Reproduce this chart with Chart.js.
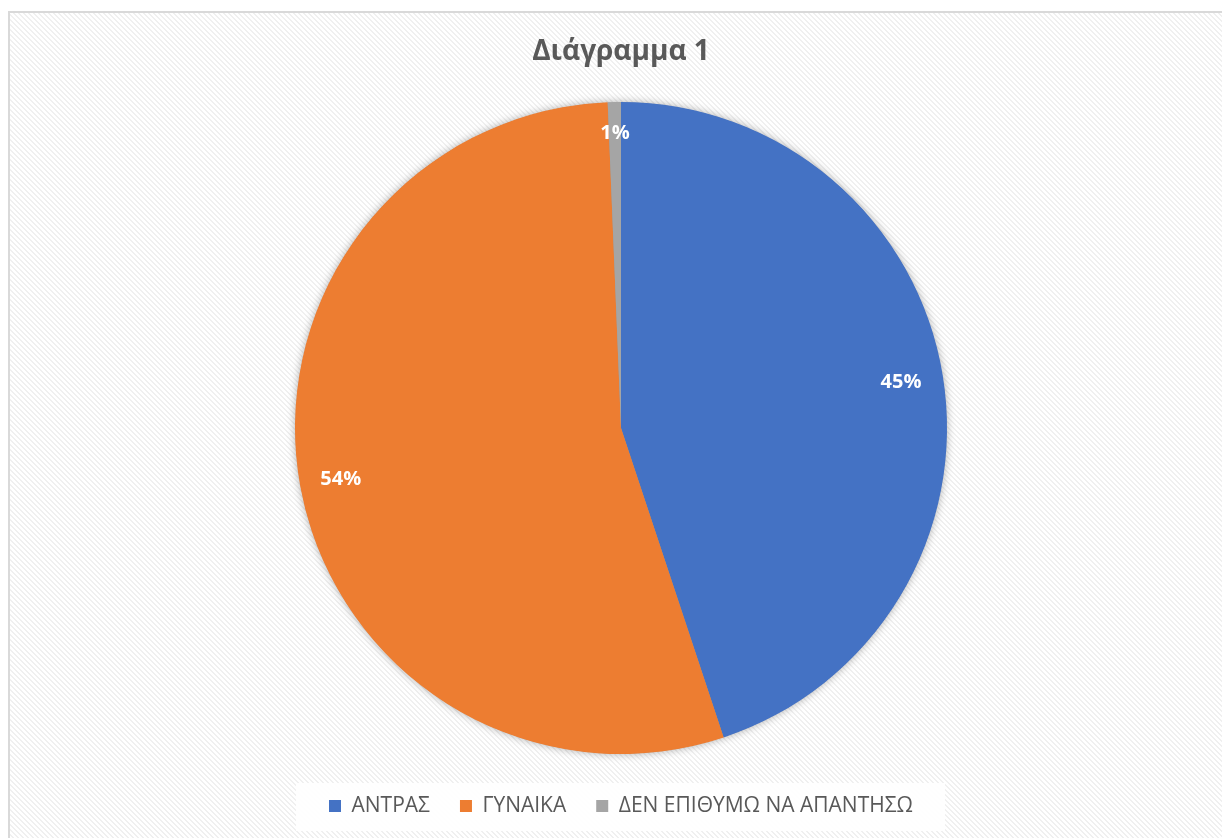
<!DOCTYPE html>
<html><head><meta charset="utf-8">
<script src="https://cdn.jsdelivr.net/npm/chart.js@4.4.0/dist/chart.umd.min.js"></script>
<style>html,body{margin:0;padding:0;background:#fff;overflow:hidden}#wrap{width:1222px;height:838px;position:relative}canvas{display:block}</style>
</head><body><div id="wrap"><canvas id="c" width="1222" height="838"></canvas></div>
<script>
const titleText = 'Διάγραμμα 1';
const categories = ['ΑΝΤΡΑΣ', 'ΓΥΝΑΙΚΑ', 'ΔΕΝ ΕΠΙΘΥΜΩ ΝΑ ΑΠΑΝΤΗΣΩ'];
const percentages = [44.9, 54.45, 0.65];
const sliceColors = ['#4472C4', '#ED7D31', '#A5A5A5'];

function makePattern(ctx) {
  const n = 5;
  const p = document.createElement('canvas'); p.width = n; p.height = n;
  const g = p.getContext('2d');
  g.fillStyle = '#ffffff'; g.fillRect(0, 0, n, n);
  g.fillStyle = '#f0f0f0';
  for (let y = 0; y < n; y++) for (let x = 0; x < n; x++) {
    const d = ((x - y) % n + n) % n;
    if (d < 2) g.fillRect(x, y, 1, 1);
  }
  return ctx.createPattern(p, 'repeat');
}

const backgroundPlugin = {
  id: 'bg',
  beforeDraw(chart) {
    const ctx = chart.ctx, W = chart.width, H = chart.height;
    ctx.save();
    ctx.fillStyle = '#ffffff'; ctx.fillRect(0, 0, W, H);
    ctx.fillStyle = makePattern(ctx); ctx.fillRect(10, 13, W - 10, H - 13);
    ctx.fillStyle = '#d9d9d9';
    ctx.fillRect(8, 11, 2, H - 11);
    ctx.fillRect(8, 11, W - 8, 2);
    const lg = chart.legend;
    if (lg && lg.legendHitBoxes && lg.legendHitBoxes.length) {
      const hb = lg.legendHitBoxes;
      const l = hb[0].left, r = hb[hb.length - 1].left + hb[hb.length - 1].width;
      const cy = hb[0].top + hb[0].height / 2;
      ctx.fillStyle = 'rgba(255,255,255,0.9)';
      ctx.fillRect(l - 33, cy - 23, (r - l) + 65, 48);
    }
    ctx.restore();
  }
};

const shadowPlugin = {
  id: 'pieShadow',
  beforeDatasetsDraw(chart) {
    const arc = chart.getDatasetMeta(0).data[0];
    if (!arc) return;
    const {x, y, outerRadius} = arc.getProps(['x', 'y', 'outerRadius'], true);
    const ctx = chart.ctx;
    ctx.save();
    ctx.shadowColor = 'rgba(0,0,0,0.35)';
    ctx.shadowBlur = 9;
    ctx.fillStyle = '#999';
    ctx.beginPath(); ctx.arc(x, y, outerRadius - 0.5, 0, Math.PI * 2); ctx.fill();
    ctx.restore();
  }
};

const labelPlugin = {
  id: 'sliceLabels',
  afterDatasetsDraw(chart, args, opts) {
    const meta = chart.getDatasetMeta(0), ctx = chart.ctx;
    const vals = chart.data.datasets[0].data;
    const sum = vals.reduce((a, b) => a + b, 0);
    ctx.save();
    ctx.font = 'bold 20px "Open Sans", "Liberation Sans", sans-serif';
    ctx.fillStyle = '#ffffff'; ctx.textAlign = 'center'; ctx.textBaseline = 'middle';
    meta.data.forEach((arc, i) => {
      const p = arc.getProps(['x', 'y', 'startAngle', 'endAngle', 'outerRadius'], true);
      const mid = (p.startAngle + p.endAngle) / 2;
      const f = opts.radial[i];
      const lx = p.x + Math.cos(mid) * p.outerRadius * f;
      const ly = p.y + Math.sin(mid) * p.outerRadius * f;
      ctx.fillText(Math.round(vals[i] / sum * 100) + '%', lx, ly);
    });
    ctx.restore();
  }
};

new Chart(document.getElementById('c'), {
  type: 'pie',
  data: {
    labels: categories,
    datasets: [{
      data: percentages,
      backgroundColor: sliceColors,
      borderWidth: 0,
      radius: 326
    }]
  },
  options: {
    responsive: false,
    animation: false,
    devicePixelRatio: 1,
    layout: { padding: { left: 20, right: 0, top: 0, bottom: 11.5 } },
    plugins: {
      title: {
        display: true, text: titleText, color: '#595959',
        font: { family: '"Open Sans", "Liberation Sans", sans-serif', weight: 'bold', size: 28 },
        padding: { top: 35.2, bottom: 21.7 }
      },
      legend: {
        position: 'bottom',
        labels: {
          boxWidth: 12, boxHeight: 12, padding: 30, color: '#595959',
          font: { family: '"Open Sans", "Liberation Sans", sans-serif', size: 21 }
        }
      },
      tooltip: { enabled: false },
      sliceLabels: { radial: [0.87, 0.874, 0.905] }
    }
  },
  plugins: [backgroundPlugin, shadowPlugin, labelPlugin]
});
</script>
</body></html>
